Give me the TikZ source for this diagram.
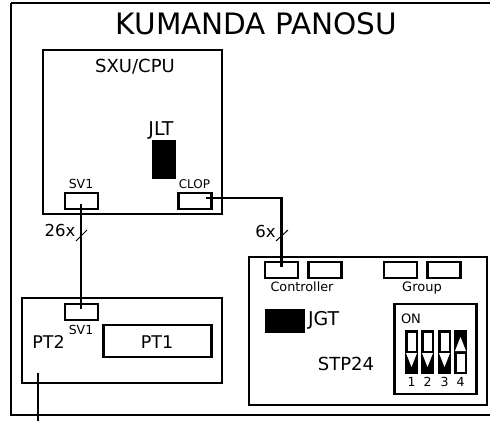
\documentclass[tikz,border=0pt]{standalone}
\usepackage{fontspec}
\setmainfont{DejaVu Sans}
\tikzset{
  box/.style={draw=black,line width=2.7pt,fill=white,inner sep=0pt,outer sep=0pt,rectangle},
  frame/.style={draw=black,line width=2.7pt},
  wire/.style={draw=black,line width=2.9pt},
  tick/.style={draw=black,line width=1pt},
  blk/.style={fill=black,draw=black,line width=0.5pt},
  lbl/.style={inner sep=0pt,outer sep=0pt,text=black,font=\fontsize{#1}{#1}\selectfont}
}
\newcommand{\dipdown}[1]{%
  \fill[black] (#1,330) rectangle ++(13,44);
  \fill[white] (#1+2.5,332.5) rectangle ++(8,18);
  \fill[white] (#1+1,353) -- ++(11,0) -- ++(-5.5,14) -- cycle;
}
\newcommand{\dipup}[1]{%
  \fill[black] (#1,330) rectangle ++(13,44);
  \fill[white] (#1+2.5,353.5) rectangle ++(8,18);
  \fill[white] (#1+1,351) -- ++(11,0) -- ++(-5.5,-14) -- cycle;
}
\begin{document}
\begin{tikzpicture}[x=1pt,y=-1pt]
\useasboundingbox (0,0) rectangle (490,421);
\fill[white] (0,0) rectangle (490,421);
\draw[frame] (11,3) -- (490,3) (11,3) -- (11,415) -- (490,415);
\node[lbl=29.5] (title) at (256.5,24) {KUMANDA PANOSU};

\node[box,minimum width=179pt,minimum height=164pt,anchor=north west] (sxu) at (43,50) {};
\node[lbl=18] (sxulbl) at (135,67) {SXU/CPU};
\node[lbl=19] (jlt) at (161,130) {JLT};
\node[blk,minimum width=23pt,minimum height=38pt,anchor=north west,inner sep=0pt] (jltblk) at (151.5,139.5) {};
\node[box,minimum width=33pt,minimum height=16pt,anchor=north west] (sv1a) at (65,193) {};
\node[lbl=12.5] (sv1alb) at (81,184) {SV1};
\node[box,minimum width=33pt,minimum height=16pt,anchor=north west] (clop) at (178.5,193) {};
\node[lbl=12] (cloplb) at (194.5,184) {CLOP};

\node[box,minimum width=200pt,minimum height=85pt,anchor=north west] (pt2) at (22,298) {};
\node[box,minimum width=33pt,minimum height=16pt,anchor=north west] (sv1b) at (65,304) {};
\node[lbl=12.5] (sv1blb) at (81,330) {SV1};
\node[lbl=17.5] (pt2lb) at (48.5,342) {PT2};
\node[box,minimum width=108pt,minimum height=32pt,anchor=north west] (pt1) at (103.5,325) {};
\node[lbl=17.5] (pt1lb) at (157,342) {PT1};

\node[box,minimum width=238pt,minimum height=148pt,anchor=north west] (stp) at (249,257) {};
\node[box,minimum width=33pt,minimum height=16pt,anchor=north west] (c1) at (265,262) {};
\node[box,minimum width=33pt,minimum height=16pt,anchor=north west] (c2) at (308.5,262) {};
\node[box,minimum width=33pt,minimum height=16pt,anchor=north west] (g1) at (384,262) {};
\node[box,minimum width=33pt,minimum height=16pt,anchor=north west] (g2) at (427.5,262) {};
\node[lbl=12.8] (ctl) at (302,287) {Controller};
\node[lbl=13] (grp) at (422,288) {Group};
\node[blk,minimum width=39pt,minimum height=23pt,anchor=north west,inner sep=0pt] (jgt) at (264.5,308.5) {};
\node[lbl=19,anchor=west] (jgtlb) at (308,320) {JGT};
\node[lbl=18] (stplb) at (346,364) {STP24};
\node[box,minimum width=82pt,minimum height=90pt,anchor=north west] (dip) at (394.5,304) {};
\node[lbl=13,anchor=west] (on) at (401,319) {ON};
\dipdown{405}
\dipdown{421}
\dipdown{438}
\dipup{454}
\node[lbl=12.5] (n1) at (411.5,382) {1};
\node[lbl=12.5] (n2) at (427.5,382) {2};
\node[lbl=12.5] (n3) at (444.5,382) {3};
\node[lbl=12.5] (n4) at (460.5,382) {4};

\coordinate (wa) at (81,204);
\coordinate (wb) at (81,309);
\draw[wire] (wa) -- (wb);
\coordinate (wc) at (206,198);
\coordinate (wd) at (281.5,198);
\coordinate (we) at (281.5,267);
\draw[wire] (wc) -- (wd) -- (we);
\coordinate (ta) at (76,241);
\coordinate (tb) at (87,230);
\coordinate (tc) at (276,241);
\coordinate (td) at (288,230);
\draw[tick] (ta) -- (tb);
\draw[tick] (tc) -- (td);
\node[lbl=16.5] (n26) at (60,230) {26x};
\node[lbl=16.5] (n6) at (265.5,231) {6x};
\coordinate (la) at (38,373);
\coordinate (lb) at (38,421);
\draw[wire,line width=2.7pt] (la) -- (lb);
\end{tikzpicture}
\end{document}
